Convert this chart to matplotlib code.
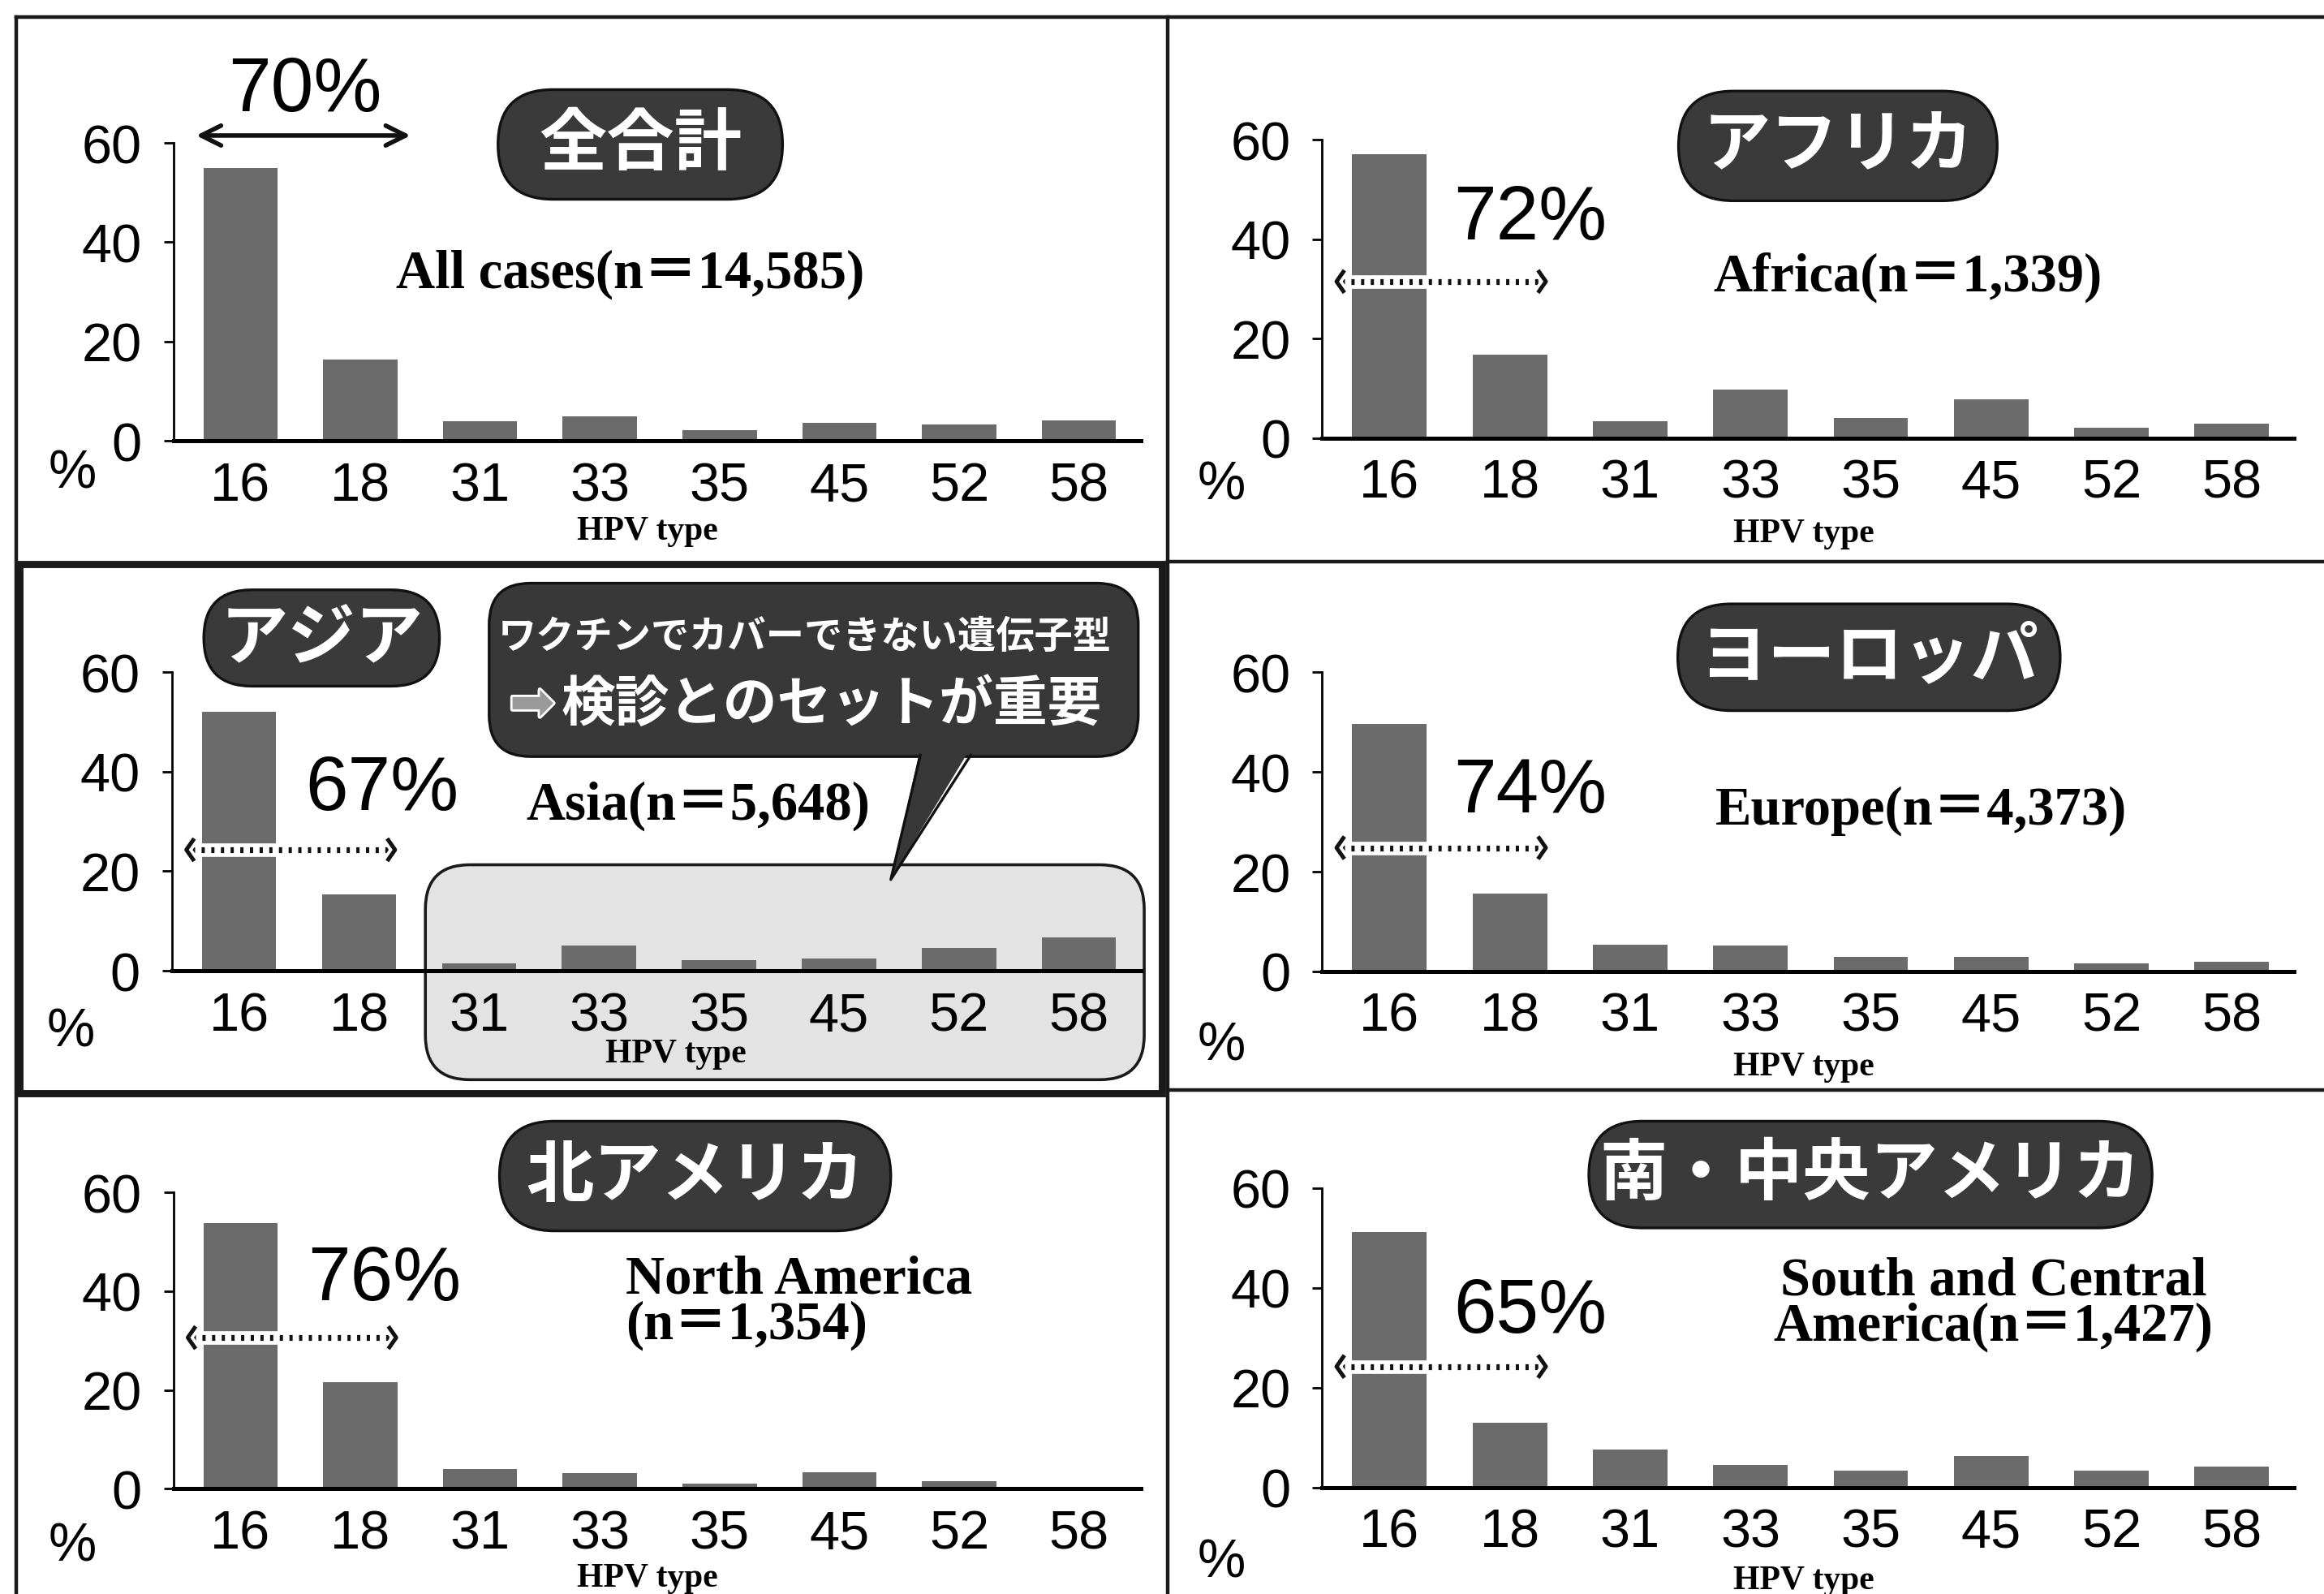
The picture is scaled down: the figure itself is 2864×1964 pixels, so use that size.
import matplotlib.pyplot as plt
import matplotlib.patheffects as pe
from matplotlib.patches import FancyBboxPatch, Polygon, Rectangle
from matplotlib.path import Path

plt.rcParams['font.family'] = ['Liberation Sans', 'Noto Sans CJK JP', 'DejaVu Sans']

# HPV types on the x axis
hpv_types = ['16', '18', '31', '33', '35', '45', '52', '58']

# share of cases (%) per HPV type
all_cases = [54.9, 16.4, 4.0, 4.9, 2.1, 3.6, 3.3, 4.2]
africa = [57.2, 16.8, 3.4, 9.7, 4.0, 7.8, 2.0, 2.9]
asia = [52.1, 15.4, 1.5, 5.1, 2.2, 2.4, 4.5, 6.7]
europe = [49.6, 15.6, 5.3, 5.2, 2.9, 2.9, 1.6, 1.9]
north_america = [53.8, 21.6, 4.0, 3.1, 1.0, 3.3, 1.5, 0.2]
south_central_america = [51.2, 13.0, 7.5, 4.5, 3.4, 6.2, 3.4, 4.1]

region_jp = ['全合計', 'アフリカ', 'アジア', 'ヨーロッパ', '北アメリカ', '南・中央アメリカ']
region_en = ['All cases(n＝14,585)', 'Africa(n＝1,339)', 'Asia(n＝5,648)',
             'Europe(n＝4,373)', 'North America\n(n＝1,354)',
             'South and Central\nAmerica(n＝1,427)']
share_16_18 = ['70%', '72%', '67%', '74%', '76%', '65%']

series = [all_cases, africa, asia, europe, north_america, south_central_america]

# layout, in a 1568 x 1076 reference grid (y down)
W, H = 1568, 1076
# (y axis x, zero line y, 60 line y, axis width)
geo = [(117, 298, 97, 653), (892, 296, 95, 656),
       (116, 655.5, 454, 654), (892, 656, 454, 656),
       (117, 1005, 805, 653), (892, 1004, 802, 656)]
# badge centre x, centre y, width, height
pills = [(432, 98, 192, 74), (1240, 99, 215, 74), (217, 431, 159, 65),
         (1261, 444, 258, 72), (469, 794, 264, 74), (1262, 793, 380, 72)]
en_pos = [(425, 185, 'center'), (1287, 187, 'center'), (471, 544, 'center'),
          (1296, 547, 'center'), (422, 879, 'left'), (1345, 880, 'center')]
pct_xy = [(0.54, 70.6), (1.17, 44.2), (1.19, 36.5), (1.17, 36.0), (1.20, 42.4), (1.17, 35.2)]
arrow_y = [61.5, 31.5, 24.3, 24.8, 30.6, 24.2]
percent_drop = [22, 32, 41.5, 50, 39, 51]
hpv_label_xy = [(0.49, -0.303), (0.495, -0.32), (0.52, -0.276),
                (0.495, -0.318), (0.49, -0.30), (0.495, -0.31)]

fig = plt.figure(figsize=(14.32, 9.825), dpi=200)
fig.patch.set_facecolor('white')

# overlay for frames, badges and call-out, drawn under the charts
ov = fig.add_axes([0, 0, 1, 1], zorder=-1)
ov.set_xlim(0, W)
ov.set_ylim(H, 0)
ov.axis('off')

# panel frames
ov.plot([11, W], [12, 12], color='#1a1a1a', lw=1.6)
ov.plot([11, 11], [12, H], color='#1a1a1a', lw=1.6)
ov.plot([788, 788], [12, H], color='#1a1a1a', lw=1.6)
ov.plot([788, W], [379.5, 379.5], color='#1a1a1a', lw=1.6)
ov.plot([788, W], [736, 736], color='#1a1a1a', lw=1.6)
ov.add_patch(Rectangle((13, 381), 771, 357, fill=False, edgecolor='#1a1a1a', lw=3.2))

# grey box around types not covered by the vaccine (Asia)
ov.add_patch(FancyBboxPatch((287, 584), 485, 145, boxstyle='round,pad=0,rounding_size=30',
                            facecolor='#e3e3e3', edgecolor='#1a1a1a', lw=1.3))

# call-out bubble
bub = '#383838'
ov.add_patch(FancyBboxPatch((330, 394), 438, 117, boxstyle='round,pad=0,rounding_size=28',
                            facecolor=bub, edgecolor='#111111', lw=1.2, zorder=2))
ov.add_patch(Polygon([(621, 505), (655, 505), (601, 594)], closed=True,
                     facecolor=bub, edgecolor='none', zorder=3))
ov.plot([621, 601, 655], [510, 594, 510], color='#111111', lw=1.2, zorder=3)
ov.text(543, 431, 'ワクチンでカバーできない遺伝子型', color='white', fontsize=17,
        fontweight='bold', ha='center', va='center', zorder=4)
ov.text(359, 476, '➡', color='#9a9a9a', fontsize=24, family=['DejaVu Sans'],
        ha='center', va='center', zorder=4,
        path_effects=[pe.withStroke(linewidth=2, foreground='white')])
ov.text(561, 476, '検診とのセットが重要', color='white', fontsize=24,
        fontweight='bold', ha='center', va='center', zorder=4)

# region badges and english labels
for i in range(6):
    cx, cy, bw, bh = pills[i]
    ov.add_patch(FancyBboxPatch((cx - bw / 2, cy - bh / 2), bw, bh,
                                boxstyle='round,pad=0,rounding_size=%g' % (bh / 2),
                                facecolor='#3a3a3a', edgecolor='#111111', lw=1.2))
    ov.text(cx, cy + 1, region_jp[i], color='white', fontsize=30, fontweight='bold',
            ha='center', va='center')
    ex, ey, ha = en_pos[i]
    ov.text(ex, ey, region_en[i], fontsize=24, fontweight='bold', ha=ha, va='center',
            linespacing=0.9, multialignment=ha,
            family=['Liberation Serif', 'Noto Sans CJK JP'])

chev_l = Path([(0.7, 1), (0, 0), (0.7, -1)], [Path.MOVETO, Path.LINETO, Path.LINETO])
chev_r = Path([(-0.7, 1), (0, 0), (-0.7, -1)], [Path.MOVETO, Path.LINETO, Path.LINETO])
halo = [pe.withStroke(linewidth=4.5, foreground='white')]

x = list(range(len(hpv_types)))
for i, vals in enumerate(series):
    ax_x, y0, y60, aw = geo[i]
    ax = fig.add_axes([ax_x / W, 1 - y0 / H, aw / W, (y0 - y60) / H])
    ax.set_facecolor('none')
    ax.bar(x, vals, width=0.62, color='#6b6b6b', zorder=2)
    ax.set_xlim(-0.56, 7.52)
    ax.set_ylim(0, 60)
    ax.set_yticks([0, 20, 40, 60])
    ax.set_xticks(x)
    ax.set_xticklabels(hpv_types)
    ax.tick_params(axis='y', direction='out', length=4.5, width=1.0, pad=9.5,
                   labelsize=24)
    ax.tick_params(axis='x', length=0, pad=9, labelsize=24)
    for s in ['top', 'right']:
        ax.spines[s].set_visible(False)
    ax.spines['left'].set_linewidth(1.0)
    ax.spines['left'].set_bounds(0, 60)
    ax.spines['bottom'].set_linewidth(1.8)
    ax.spines['bottom'].set_zorder(3)

    ax.text(-68 / aw, -percent_drop[i] / (y0 - y60), '%', transform=ax.transAxes,
            fontsize=24, ha='center', va='center')
    hx, hy = hpv_label_xy[i]
    ax.text(hx, hy, 'HPV type', transform=ax.transAxes, fontsize=15,
            fontweight='bold', ha='center', va='center', family=['Liberation Serif'])

    px, py = pct_xy[i]
    ax.text(px, py, share_16_18[i], fontsize=34, ha='center', va='center')

    ay = arrow_y[i]
    if i == 0:
        ax.annotate('', xy=(-0.37, ay), xytext=(1.42, ay), annotation_clip=False,
                    arrowprops=dict(arrowstyle='<->', lw=2.0, color='#111111',
                                    mutation_scale=22, shrinkA=0, shrinkB=0))
    else:
        x0, x1 = -0.44, 1.30
        ax.plot([x0, x1], [ay, ay], color='white', lw=6, solid_capstyle='butt',
                zorder=5, clip_on=False)
        ax.plot([x0 + 0.04, x1 - 0.03], [ay, ay], color='#111111', lw=2.6,
                linestyle=(0, (0.55, 1.1)), zorder=6, clip_on=False)
        ax.plot([x0], [ay], marker=chev_l, markersize=10, color='#111111',
                fillstyle='none', markeredgewidth=1.8, linestyle='none',
                zorder=7, clip_on=False, path_effects=halo)
        ax.plot([x1], [ay], marker=chev_r, markersize=10, color='#111111',
                fillstyle='none', markeredgewidth=1.8, linestyle='none',
                zorder=7, clip_on=False, path_effects=halo)

fig.savefig('out.png', dpi=200, facecolor='white')
